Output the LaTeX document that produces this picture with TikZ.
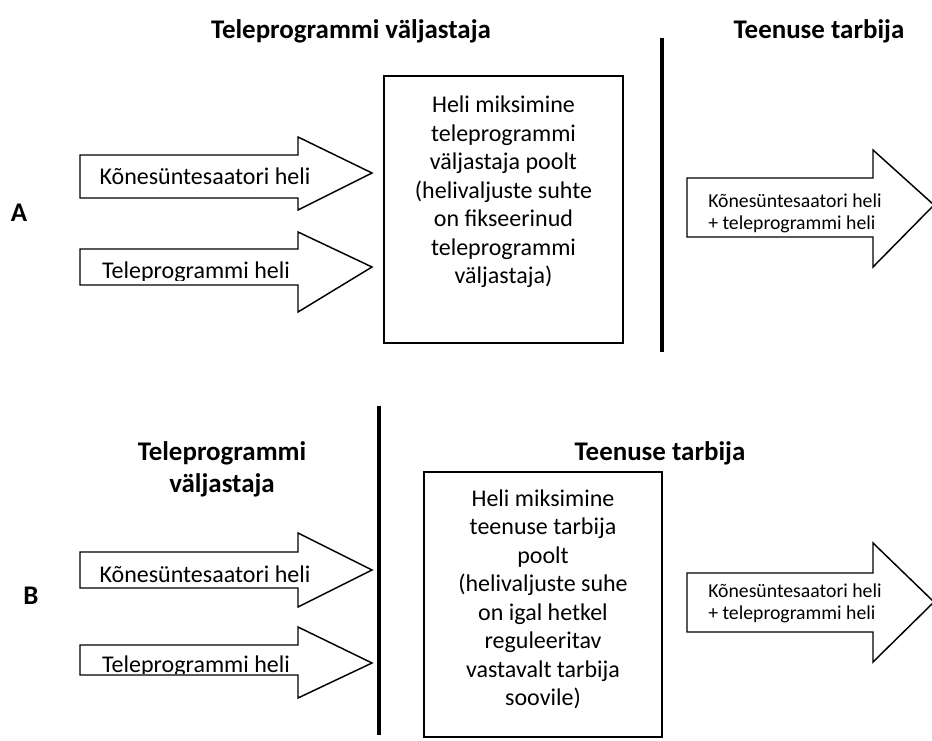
\documentclass[tikz,border=0pt]{standalone}
\usepackage{fontspec}
\setmainfont{Carlito}
\usetikzlibrary{calc, positioning}
\tikzset{
    textnode/.style = {draw=none, fill=none, rectangle, inner sep=0em, font=\fontsize{18}{21.4}\selectfont},
    titlenode/.style = {textnode, align=center, font=\fontsize{20.2}{24}\selectfont\bfseries},
    smalltextnode/.style = {textnode, align=left, font=\fontsize{14.8}{16.5}\selectfont},
    mixnode/.style = {textnode, align=center},
    rectanglenode/.style = {draw, rectangle, line width=1.1pt, inner sep=0em},
    blockarrow/.style = {draw, line width=1.1pt, line join=miter, fill=white},
    divider/.style = {line width=2.4pt}
}

\begin{document}
\begin{tikzpicture}[x=0.75pt, y=-0.75pt]
\useasboundingbox (0,0) rectangle (932,741);

% --- A: mixing at the broadcaster
\node[titlenode, name=A] at (19,213) {A};
\node[titlenode, name=senderA] at (351,31) {Teleprogrammi väljastaja};
\node[titlenode, name=userA] at (819,31) {Teenuse tarbija};
\draw[divider] (662,38) -- (662,352);

\draw[blockarrow] (80,155) -- (298,155) -- (298,137) -- (372,173) -- (298,210) -- (298,198) -- (80,198) -- cycle;
\node[textnode, anchor=base, name=synthA] at (205,185) {Kõnesüntesaatori heli};
\draw[blockarrow] (80,249) -- (298,249) -- (298,232) -- (372,267) -- (298,312) -- (298,285) -- (80,285) -- cycle;
\begin{scope}
  \clip (80,249) rectangle (298,280.5);
  \node[textnode, anchor=base, name=progA] at (196,279) {Teleprogrammi heli};
\end{scope}

\node[rectanglenode, name=boxA, minimum width=179.25pt, minimum height=200.25pt] at (503.5,209.5) {};
\node[mixnode, anchor=north, name=mixA] at ($(boxA.north)+(0,20.5)$)
  {Heli miksimine\\teleprogrammi\\väljastaja poolt\\(helivaljuste suhte\\on fikseerinud\\teleprogrammi\\väljastaja)};

\draw[blockarrow] (687,178) -- (873,178) -- (873,150) -- (934,205) -- (873,267) -- (873,237) -- (687,237) -- cycle;
\node[smalltextnode, anchor=north west, name=outA] at (708,194) {Kõnesüntesaatori heli\\+ teleprogrammi heli};

% --- B: mixing at the user
\node[titlenode, name=B] at (31,596) {B};
\node[titlenode, name=senderB] at (222,469) {Teleprogrammi\\väljastaja};
\node[titlenode, name=userB] at (660,453) {Teenuse tarbija};
\draw[divider] (379,406) -- (379,735);

\draw[blockarrow] (80,552) -- (298,552) -- (298,533) -- (372,570) -- (298,607) -- (298,588) -- (80,588) -- cycle;
\node[textnode, anchor=base, name=synthB] at (205,582) {Kõnesüntesaatori heli};
\draw[blockarrow] (80,645) -- (298,645) -- (298,627) -- (372,663) -- (298,698) -- (298,675) -- (80,675) -- cycle;
\begin{scope}
  \clip (80,645) rectangle (298,673.5);
  \node[textnode, anchor=base, name=progB] at (196,672) {Teleprogrammi heli};
\end{scope}

\node[rectanglenode, name=boxB, minimum width=178.5pt, minimum height=198.75pt] at (543,604.5) {};
\node[mixnode, anchor=north, name=mixB] at ($(boxB.north)+(0,18)$)
  {Heli miksimine\\teenuse tarbija\\poolt\\(helivaljuste suhe\\on igal hetkel\\reguleeritav\\vastavalt tarbija\\soovile)};

\draw[blockarrow] (687,573) -- (873,573) -- (873,543) -- (934,602) -- (873,662) -- (873,632) -- (687,632) -- cycle;
\node[smalltextnode, anchor=north west, name=outB] at (708,584) {Kõnesüntesaatori heli\\+ teleprogrammi heli};
\end{tikzpicture}
\end{document}
